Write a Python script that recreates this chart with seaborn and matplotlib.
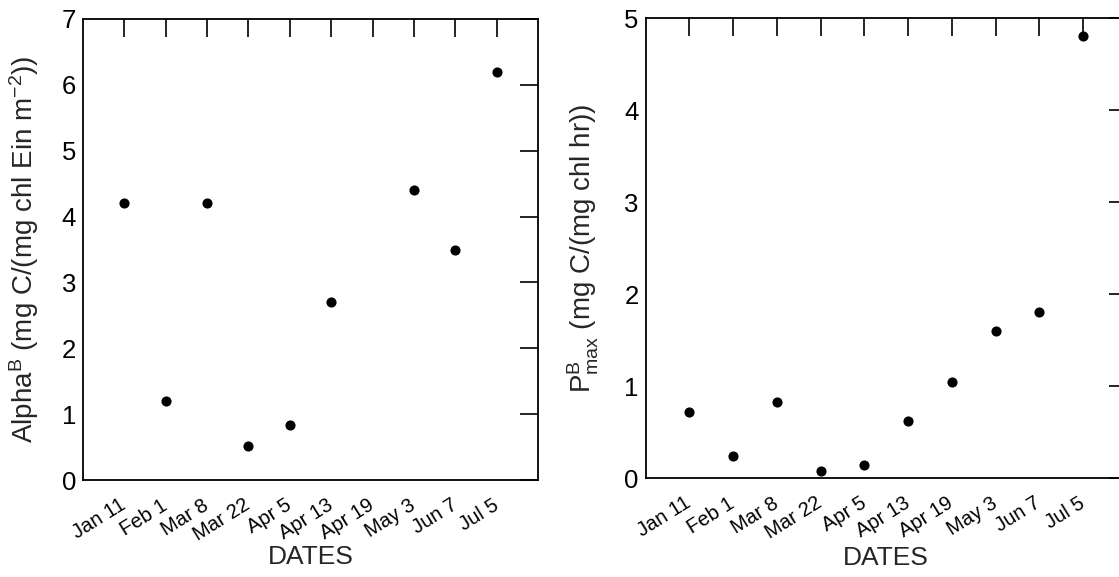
import numpy as np
import pandas as pd
import matplotlib
matplotlib.use("Agg")
import matplotlib.pyplot as plt
import seaborn as sns

dates = ["Jan 11", "Feb 1", "Mar 8", "Mar 22", "Apr 5", "Apr 13", "Apr 19", "May 3", "Jun 7", "Jul 5"]
alpha_b = [4.2, 1.2, 4.2, 0.52, 0.83, 2.7, np.nan, 4.4, 3.5, 6.2]
pmax_b = [0.715, 0.238, 0.827, 0.076, 0.137, 0.617, 1.047, 1.603, 1.805, 4.80]
alpha_yticks = [0, 1, 2, 3, 4, 5, 6, 7]
pmax_yticks = [0, 1, 2, 3, 4, 5]

sns.set_style("white")
plt.rcParams["font.family"] = ["Liberation Sans", "DejaVu Sans"]
plt.rcParams["mathtext.fontset"] = "custom"
plt.rcParams["mathtext.rm"] = "Liberation Sans"
plt.rcParams["mathtext.it"] = "Liberation Sans:italic"
plt.rcParams["mathtext.bf"] = "Liberation Sans:bold"

fig = plt.figure(figsize=(11.19, 5.77), dpi=100)
ax1 = fig.add_axes([83 / 1119, 97 / 577, 455 / 1119, 461 / 577])
ax2 = fig.add_axes([645.7 / 1119, 99 / 577, 481 / 1119, 460 / 577])

df1 = pd.DataFrame({"date": dates, "val": alpha_b})
df2 = pd.DataFrame({"date": dates, "val": pmax_b})

specs = [
    (ax1, df1, alpha_yticks, r"Alpha$^{\mathrm{B}}$ (mg C/(mg chl Ein m$^{\mathrm{-2}}$))",
     (-0.092, 0.5), (0.5, -0.142)),
    (ax2, df2, pmax_yticks, r"P$^{\mathrm{B}}_{\mathrm{max}}$ (mg C/(mg chl hr))",
     (-0.093, 0.5), (0.5, -0.147)),
]
for ax, df, yt, ylab, lc, xc in specs:
    sns.stripplot(data=df, x="date", y="val", order=dates, jitter=False,
                  color="black", size=7.3, linewidth=0, ax=ax, zorder=5, clip_on=False)
    ax.set_xlim(-1, len(dates))
    ax.set_ylim(yt[0], yt[-1])
    ax.set_yticks(yt)
    ax.set_yticklabels([str(v) for v in yt], fontsize=18.5)
    ax.set_xticks(range(len(dates)))
    ax.set_xticklabels(dates, rotation=32, ha="right", va="center",
                       fontsize=14.5, rotation_mode="anchor")
    ax.tick_params(direction="in", length=13, width=1.2, top=True, right=True,
                   labeltop=False, labelright=False, colors="black", pad=5)
    ax.tick_params(axis="x", pad=17)
    for s in ax.spines.values():
        s.set_visible(True)
        s.set_color("black")
        s.set_linewidth(1.3)
    ax.set_xlabel("DATES", fontsize=19)
    ax.xaxis.set_label_coords(*xc)
    ax.set_ylabel(ylab, fontsize=20)
    ax.yaxis.set_label_coords(*lc)
    ax.grid(False)

fig.savefig("out.png", dpi=100)
